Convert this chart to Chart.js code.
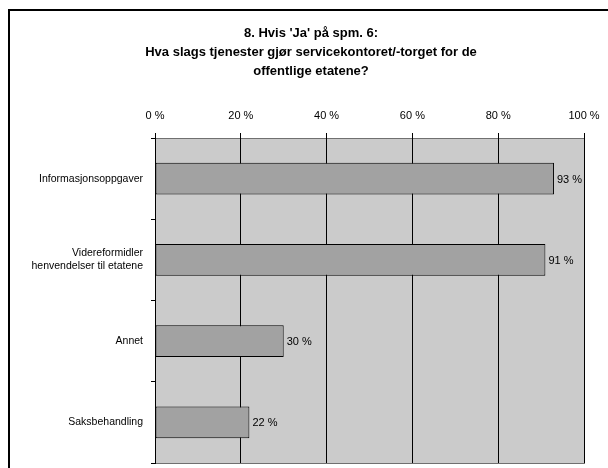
<!DOCTYPE html>
<html>
<head>
<meta charset="utf-8">
<script src="https://cdn.jsdelivr.net/npm/chart.js@4/dist/chart.umd.min.js"></script>
<style>
html,body{margin:0;padding:0;background:#fff;}
#wrap{width:608px;height:468px;position:relative;}
</style>
</head>
<body>
<div id="wrap"><canvas id="c" width="608" height="468"></canvas></div>
<script>
const titleLines = ["8. Hvis 'Ja' på spm. 6:", "Hva slags tjenester gjør servicekontoret/-torget for de", "offentlige etatene?"];
const categories = ["Informasjonsoppgaver", ["Videreformidler", "henvendelser til etatene"], "Annet", "Saksbehandling"];
const values = [93, 91, 30, 22];
const tickValues = [0, 20, 40, 60, 80, 100];

const frame = {
  id: 'frame',
  beforeDraw(chart) {
    const ctx = chart.ctx, a = chart.chartArea;
    ctx.save();
    ctx.fillStyle = '#fff';
    ctx.fillRect(0, 0, chart.width, chart.height);
    ctx.strokeStyle = '#000';
    ctx.lineWidth = 2;
    ctx.beginPath();
    ctx.moveTo(9, 468); ctx.lineTo(9, 10); ctx.lineTo(608, 10);
    ctx.stroke();
    ctx.fillStyle = '#cbcbcb';
    ctx.fillRect(a.left, a.top, a.right - a.left, a.bottom - a.top);
    ctx.strokeStyle = '#707070';
    ctx.lineWidth = 1;
    ctx.strokeRect(a.left + 0.5, a.top + 0.5, a.right - a.left, a.bottom - a.top);
    ctx.fillStyle = '#000';
    ctx.font = 'bold 13px "Liberation Sans", Arial, sans-serif';
    ctx.textAlign = 'center';
    ctx.textBaseline = 'middle';
    titleLines.forEach((t, i) => ctx.fillText(t, 311, 33 + i * 19));
    ctx.restore();
  },
  afterDatasetsDraw(chart) {
    const ctx = chart.ctx;
    const meta = chart.getDatasetMeta(0);
    ctx.save();
    ctx.font = '11px "Liberation Sans", Arial, sans-serif';
    ctx.fillStyle = '#000';
    ctx.textBaseline = 'middle';
    ctx.textAlign = 'left';
    meta.data.forEach((bar, i) => {
      ctx.fillText(values[i] + ' %', bar.x + 3, bar.y + 1);
    });
    ctx.restore();
  }
};

new Chart(document.getElementById('c'), {
  type: 'bar',
  data: {
    labels: categories,
    datasets: [{
      data: values,
      backgroundColor: '#a2a2a2',
      borderColor: '#000',
      borderWidth: 1,
      borderSkipped: false,
      barPercentage: 0.39,
      categoryPercentage: 1.0
    }]
  },
  options: {
    indexAxis: 'y',
    responsive: false,
    animation: false,
    devicePixelRatio: 1,
    layout: { padding: { left: 0, right: 24, bottom: 5, top: 90 } },
    plugins: {
      legend: { display: false },
      tooltip: { enabled: false },
      title: { display: false }
    },
    scales: {
      x: {
        position: 'top',
        min: 0,
        max: 100,
        afterBuildTicks(scale) { scale.ticks = tickValues.map(v => ({ value: v })); },
        afterFit(scale) { scale.height = 48; scale.paddingLeft = 0; scale.paddingRight = 0; },
        ticks: {
          callback: v => v + ' %',
          color: '#000',
          padding: 10,
          maxRotation: 0,
          font: { family: '"Liberation Sans", Arial, sans-serif', size: 11 }
        },
        grid: { color: '#000', lineWidth: 1, tickLength: 5, drawTicks: true },
        border: { display: false }
      },
      y: {
        afterFit(scale) { scale.width = 155; scale.paddingTop = 0; scale.paddingBottom = 0; },
        ticks: {
          color: '#000',
          padding: 8,
          font: { family: '"Liberation Sans", Arial, sans-serif', size: 10.5 }
        },
        grid: { offset: true, drawOnChartArea: false, tickLength: 4, color: '#000' },
        border: { display: true, color: '#000', width: 1 }
      }
    }
  },
  plugins: [frame]
});
</script>
</body>
</html>
